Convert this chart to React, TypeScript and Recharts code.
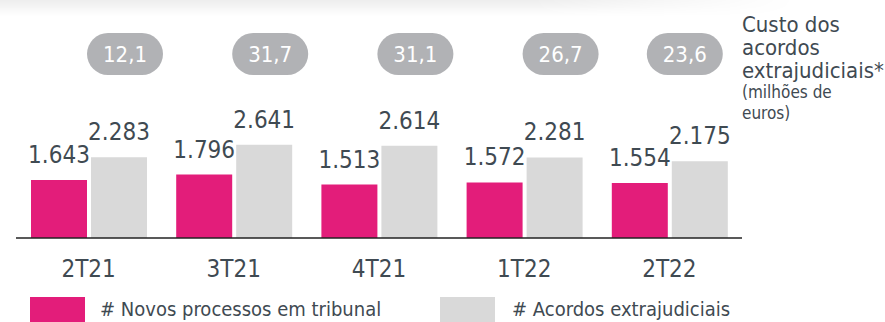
import React from 'react';
import { BarChart, Bar, XAxis, YAxis, LabelList } from 'recharts';

// quarterly litigation figures
const quarters = ['2T21', '3T21', '4T21', '1T22', '2T22'];
const newCases = [1643, 1796, 1513, 1572, 1554];
const settlements = [2283, 2641, 2614, 2281, 2175];
const settlementCost = [12.1, 31.7, 31.1, 26.7, 23.6];

const seriesNames = ['# Novos processos em tribunal', '# Acordos extrajudiciais'];
const sideNote = ['Custo dos', 'acordos', 'extrajudiciais*'];
const sideUnit = ['(milhões de', 'euros)'];

const PINK = '#e31d7a';
const GREY = '#d9d9d9';
const PILL = '#b1b2b5';
const TEXT = '#3f4a52';
const FONT = '"DejaVu Sans Condensed", "DejaVu Sans", sans-serif';

const data = quarters.map((q, i) => ({
  quarter: q,
  cases: newCases[i],
  settled: settlements[i],
  cost: settlementCost[i],
}));

const thousands = (v: number) => String(v).replace(/\B(?=(\d{3})+(?!\d))/g, '.');
const decimal = (v: number) => v.toFixed(1).replace('.', ',');

const QuarterTick = (props: any) => {
  const { x, y, payload } = props;
  return (
    <text x={x} y={y + 39} textAnchor="middle" fontSize={24} fill={TEXT} fontFamily={FONT}>
      {payload.value}
    </text>
  );
};

// grey pill with the settlement cost, sitting above each group
const CostPill = (props: any) => {
  const { x, width, value, index } = props;
  const nudge = index === quarters.length - 1 ? -15 : 6;
  const cx = x + width / 2 + nudge;
  return (
    <g>
      <rect x={cx - 38} y={33} width={76} height={42} rx={21} fill={PILL} />
      <text x={cx} y={62} textAnchor="middle" fontSize={22} fill="#fff" fontFamily={FONT}>
        {decimal(value)}
      </text>
    </g>
  );
};

const labelStyle = { fontSize: 24, fill: TEXT, fontFamily: FONT };

export default function App() {
  return (
    <div
      style={{
        position: 'absolute',
        left: 0,
        top: 0,
        width: 885,
        height: 322,
        background: '#fff',
        overflow: 'hidden',
        fontFamily: FONT,
        color: TEXT,
      }}
    >
      <div
        style={{
          position: 'absolute',
          left: 0,
          top: 0,
          width: 885,
          height: 16,
          background: 'linear-gradient(to bottom, rgba(0,0,0,0.07), rgba(0,0,0,0))',
          WebkitMaskImage: 'linear-gradient(to right, #000 60%, transparent 90%)',
          maskImage: 'linear-gradient(to right, #000 60%, transparent 90%)',
        }}
      />
      <BarChart
        width={885}
        height={322}
        data={data}
        margin={{ top: 26, right: 143, bottom: 0, left: 16 }}
        barSize={56}
        barGap={4}
      >
        <XAxis
          dataKey="quarter"
          height={84}
          tickLine={false}
          tickSize={0}
          tickMargin={0}
          axisLine={{ stroke: '#222', strokeWidth: 1.5 }}
          tick={<QuarterTick />}
        />
        <YAxis hide domain={[0, 6000]} />
        <Bar dataKey="cases" fill={PINK} isAnimationActive={false}>
          <LabelList dataKey="cases" position="top" offset={17} formatter={thousands} style={labelStyle} />
        </Bar>
        <Bar dataKey="settled" fill={GREY} isAnimationActive={false}>
          <LabelList dataKey="settled" position="top" offset={17} formatter={thousands} style={labelStyle} />
          <LabelList dataKey="cost" content={<CostPill />} />
        </Bar>
      </BarChart>

      <div style={{ position: 'absolute', left: 742, top: 13, lineHeight: '23px', whiteSpace: 'nowrap' }}>
        {sideNote.map((t) => (
          <div key={t} style={{ fontSize: 22 }}>{t}</div>
        ))}
        {sideUnit.map((t) => (
          <div key={t} style={{ fontSize: 17, lineHeight: '21px' }}>{t}</div>
        ))}
      </div>

      {seriesNames.map((name, i) => (
        <div key={name}>
          <div
            style={{
              position: 'absolute',
              left: i === 0 ? 30 : 440,
              top: 297,
              width: 55,
              height: 30,
              background: i === 0 ? PINK : GREY,
            }}
          />
          <div
            style={{
              position: 'absolute',
              left: i === 0 ? 100 : 512,
              top: 297,
              fontSize: 20,
              lineHeight: '24px',
              whiteSpace: 'nowrap',
            }}
          >
            {name}
          </div>
        </div>
      ))}
    </div>
  );
}
